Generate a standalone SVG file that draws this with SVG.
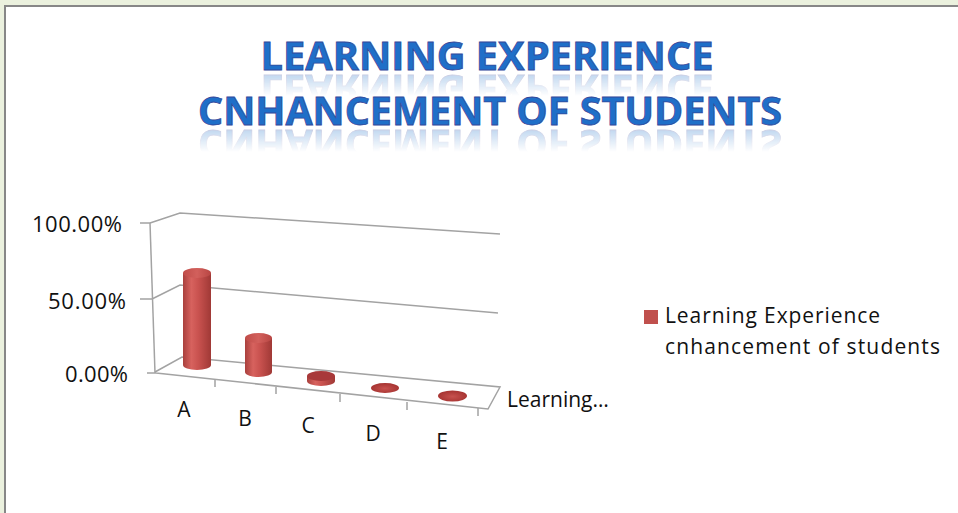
<svg xmlns="http://www.w3.org/2000/svg" xmlns:xlink="http://www.w3.org/1999/xlink" width="958" height="513" viewBox="0 0 958 513">
<defs>
<style>
.t{font-family:"Open Sans","Liberation Sans",sans-serif;font-size:21px;fill:#111}
.ax{font-size:22px}
.title{font-family:"Open Sans","Liberation Sans",sans-serif;font-weight:bold;font-size:39px;fill:#1F6FC8;stroke:#34489A;stroke-width:0.8;text-anchor:middle}
.grid{stroke:#A3A3A3;stroke-width:1.5;fill:none}
</style>
<linearGradient id="fade1" gradientUnits="userSpaceOnUse" x1="0" y1="74" x2="0" y2="96">
<stop offset="0" stop-color="#fff" stop-opacity="1"/>
<stop offset="1" stop-color="#fff" stop-opacity="0"/>
</linearGradient>
<linearGradient id="fade2" gradientUnits="userSpaceOnUse" x1="0" y1="129" x2="0" y2="152">
<stop offset="0" stop-color="#fff" stop-opacity="1"/>
<stop offset="1" stop-color="#fff" stop-opacity="0"/>
</linearGradient>
<mask id="m1" maskUnits="userSpaceOnUse" x="0" y="0" width="958" height="513">
<rect x="150" y="73" width="700" height="25" fill="url(#fade1)"/>
</mask>
<mask id="m2" maskUnits="userSpaceOnUse" x="0" y="0" width="958" height="513">
<rect x="150" y="128" width="700" height="26" fill="url(#fade2)"/>
</mask>
<filter id="soft" x="-5%" y="-20%" width="110%" height="140%">
<feGaussianBlur stdDeviation="0.7"/>
</filter>
<linearGradient id="body" x1="0" y1="0" x2="1" y2="0">
<stop offset="0" stop-color="#A9403D"/>
<stop offset="0.3" stop-color="#D7625E"/>
<stop offset="0.55" stop-color="#C9524F"/>
<stop offset="1" stop-color="#A03936"/>
</linearGradient>
<linearGradient id="top" x1="0" y1="0" x2="1" y2="0">
<stop offset="0" stop-color="#C04C49"/>
<stop offset="0.5" stop-color="#D2605C"/>
<stop offset="1" stop-color="#B84643"/>
</linearGradient>
<radialGradient id="flat" cx="0.5" cy="0.55" r="0.6">
<stop offset="0" stop-color="#C7514E"/>
<stop offset="1" stop-color="#A2302E"/>
</radialGradient>
</defs>
<rect x="0" y="0" width="958" height="513" fill="#EBF1DE"/>
<rect x="5" y="6" width="960" height="520" fill="#FFFFFF" stroke="#878787" stroke-width="2"/>

<g id="title">
<text id="tl1" class="title" x="487" y="70" textLength="453" lengthAdjust="spacingAndGlyphs">LEARNING EXPERIENCE</text>
<text id="tl2" class="title" x="490" y="125" textLength="584" lengthAdjust="spacingAndGlyphs">CNHANCEMENT OF STUDENTS</text>
<g mask="url(#m1)" opacity="0.28" filter="url(#soft)">
<use xlink:href="#tl1" href="#tl1" transform="translate(0,145) scale(1,-1)"/>
</g>
<g mask="url(#m2)" opacity="0.28" filter="url(#soft)">
<use xlink:href="#tl2" href="#tl2" transform="translate(0,255) scale(1,-1)"/>
</g>
</g>

<g id="connectors">
<path class="grid" d="M150,223 L180,213 L500,234"/>
<path class="grid" d="M152,299 L180,285 L498,313"/>
<path class="grid" d="M155,372 L182,357 L500,387 L488,409 L156,373"/>
<path class="grid" d="M150,223 L155,373"/>
<path class="grid" d="M140,223 L150,223 M140,299 L152,299 M147,373 L156,373"/>
<path class="grid" d="M215,380 L215,387 M276,387 L276,394 M340,394 L340,402 M407,402 L407,410 M478,408 L478,416"/>
</g>

<g id="axis-labels">
<text class="t ax" x="122" y="232" text-anchor="end" textLength="90">100.00%</text>
<text class="t ax" x="126" y="309" text-anchor="end" textLength="78">50.00%</text>
<text class="t ax" x="128" y="382" text-anchor="end" textLength="63">0.00%</text>
<text class="t" x="184" y="417" text-anchor="middle">A</text>
<text class="t" x="245" y="426" text-anchor="middle">B</text>
<text class="t" x="308" y="433" text-anchor="middle">C</text>
<text class="t" x="373" y="441" text-anchor="middle">D</text>
<text class="t" x="442" y="449" text-anchor="middle">E</text>
<text class="t" x="507" y="407">Learning…</text>
</g>

<g id="bar-A">
<path d="M183,273 L183,365 A14,5 0 0 0 211,365 L211,273 Z" fill="url(#body)"/>
<ellipse cx="197" cy="273" rx="14" ry="5" fill="url(#top)"/>
</g>
<g id="bar-B">
<path d="M245,338 L245,372 A13.5,5 0 0 0 272,372 L272,338 Z" fill="url(#body)"/>
<ellipse cx="258.5" cy="338" rx="13.5" ry="5" fill="url(#top)"/>
</g>
<g id="bar-C">
<path d="M307,376 L307,381 A14,5 0 0 0 335,381 L335,376 Z" fill="url(#body)"/>
<ellipse cx="321" cy="376" rx="14" ry="5" fill="#A8393A"/>
</g>
<g id="bar-D">
<ellipse cx="385" cy="388" rx="14" ry="5" fill="url(#flat)"/>
</g>
<g id="bar-E">
<ellipse cx="452.5" cy="396" rx="14.5" ry="5.5" fill="url(#flat)"/>
</g>

<g id="legend">
<rect x="644" y="310" width="14" height="14" fill="#C0504D"/>
<text class="t" x="665" y="323" textLength="215">Learning Experience</text>
<text class="t" x="665" y="354" textLength="275">cnhancement of students</text>
</g>
</svg>
